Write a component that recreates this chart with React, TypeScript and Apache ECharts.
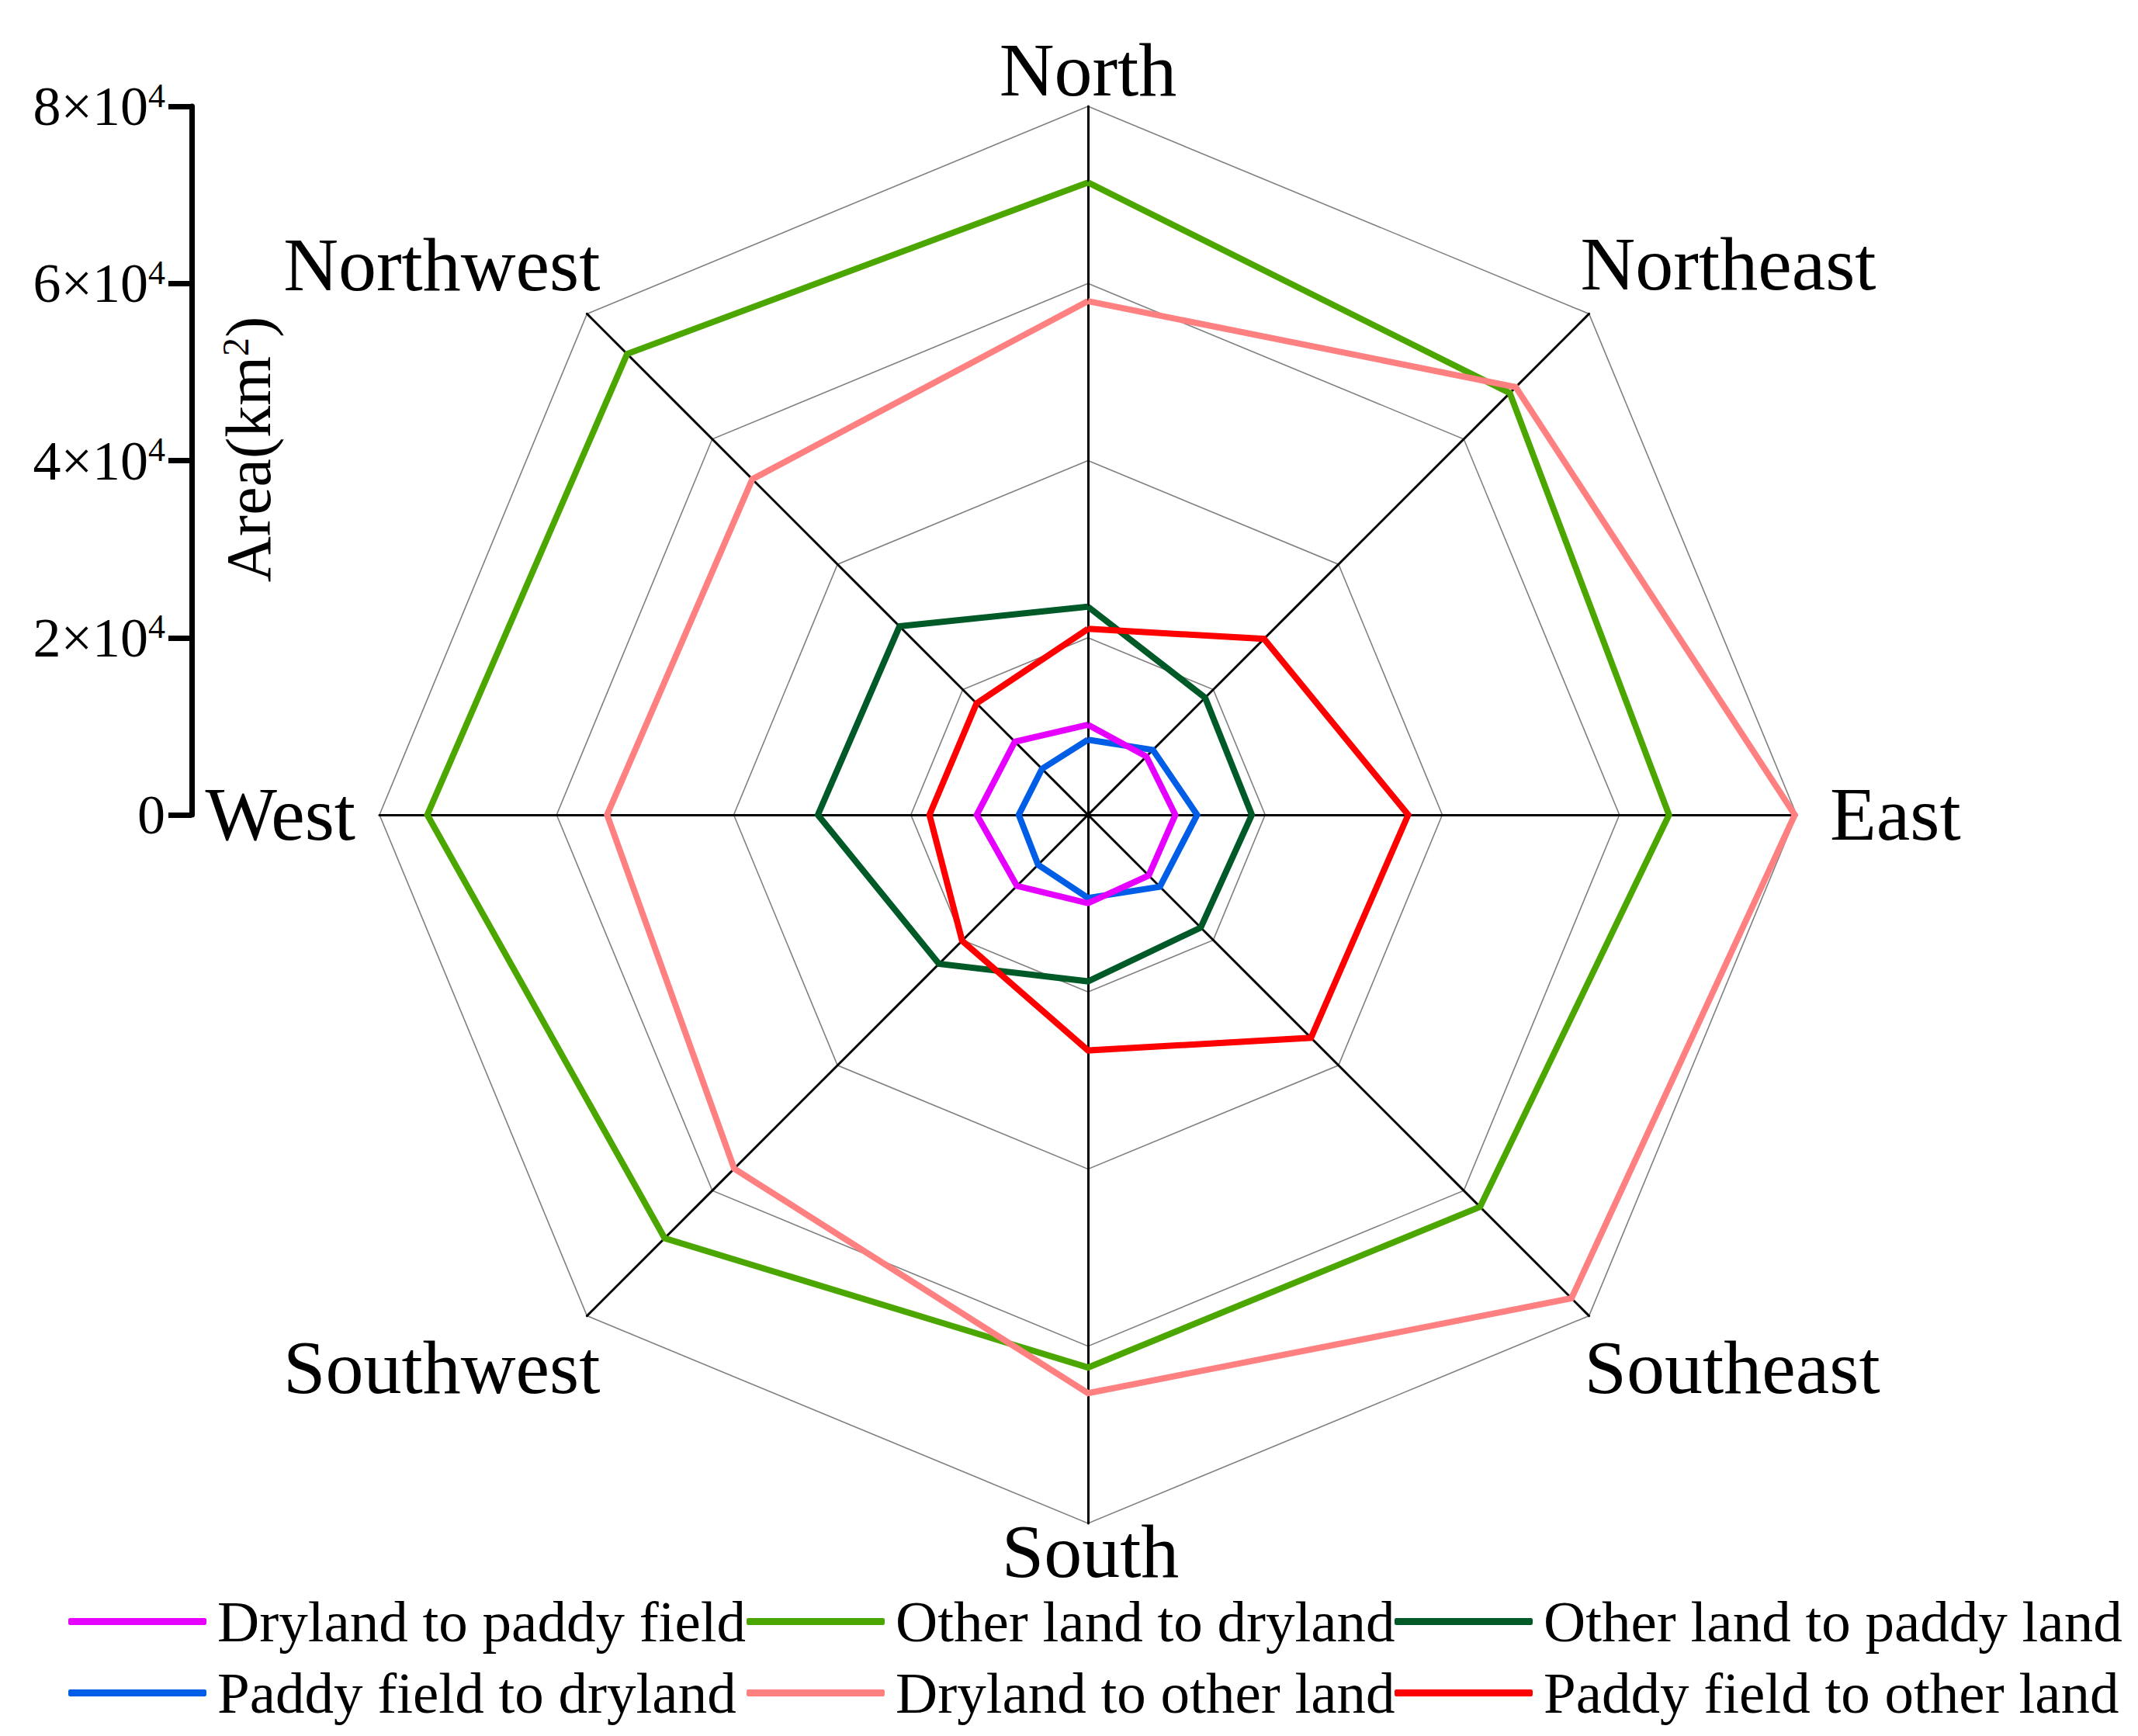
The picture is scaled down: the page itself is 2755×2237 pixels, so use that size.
import React, { useEffect, useRef } from 'react';
import * as echarts from 'echarts';

// ---- data ----
const directions = ['North', 'Northwest', 'West', 'Southwest', 'South', 'Southeast', 'East', 'Northeast'];
const seriesNames = [
  'Dryland to paddy field',
  'Other land to dryland',
  'Other land to paddy land',
  'Paddy field to dryland',
  'Dryland to other land',
  'Paddy field to other land',
];
// values (km²), in the order of `directions`
const drylandToPaddy = [10170, 11680, 12560, 11350, 9980, 9690, 9860, 9320];
const otherToDryland = [71400, 73600, 74600, 67600, 62400, 62600, 65600, 67350];
const otherToPaddy = [23500, 30100, 30500, 23800, 18800, 18000, 18500, 18700];
const paddyToDryland = [8480, 7350, 7820, 7970, 9390, 11480, 12320, 10370];
const drylandToOther = [58000, 53600, 54300, 56500, 65300, 77200, 79800, 68300];
const paddyToOther = [21000, 17800, 17900, 20100, 26600, 35600, 36150, 28100];
const seriesValues = [drylandToPaddy, otherToDryland, otherToPaddy, paddyToDryland, drylandToOther, paddyToOther];
const colors = ['#e600ff', '#4ca600', '#005a27', '#005ee6', '#ff8080', '#ff0000'];
const drawOrder = [3, 0, 2, 5, 1, 4];
const axisMax = 80000;
const axisInterval = 20000;

// ---- layout ----
const W = 2755;
const H = 2237;
const CX = 1402;
const CY = 1050;
const R = 913;
const FONT = '"Liberation Serif", "Times New Roman", serif';
const LEGEND_LEFT = [88, 962, 1797];

export default function App() {
  const ref = useRef<HTMLDivElement>(null);

  useEffect(() => {
    if (!ref.current) return;
    const chart = echarts.init(ref.current, null, { renderer: 'svg' });
    const D = R * Math.SQRT1_2;
    const labelPlace: Record<string, { x: number; y: number; align: string }> = {
      North: { x: CX, y: CY - R - 47, align: 'center' },
      Northwest: { x: CX - D + 17, y: CY - D - 63, align: 'right' },
      West: { x: CX - R - 31, y: CY - 1, align: 'right' },
      Southwest: { x: CX - D + 17, y: CY + D + 66, align: 'right' },
      South: { x: CX + 3, y: CY + R + 36, align: 'center' },
      Southeast: { x: CX + D - 6, y: CY + D + 66, align: 'left' },
      East: { x: CX + R + 43, y: CY - 1, align: 'left' },
      Northeast: { x: CX + D - 11, y: CY - D - 64, align: 'left' },
    };

    const graphics: any[] = directions.map((name) => ({
      type: 'text',
      x: labelPlace[name].x,
      y: labelPlace[name].y,
      silent: true,
      style: {
        text: name,
        fill: '#000',
        fontSize: 98,
        fontFamily: FONT,
        align: labelPlace[name].align,
        verticalAlign: 'middle',
      },
    }));
    graphics.push({
      type: 'text',
      x: 320,
      y: 579,
      rotation: Math.PI / 2,
      silent: true,
      style: {
        text: '{a|Area(km}{s|2}{a|)}',
        align: 'center',
        verticalAlign: 'middle',
        rich: {
          a: { fontSize: 82, fontFamily: FONT, fill: '#000', lineHeight: 82 },
          s: { fontSize: 48, fontFamily: FONT, fill: '#000', lineHeight: 44, verticalAlign: 'top' },
        },
      },
    });

    const option: any = {
      animation: false,
      backgroundColor: '#fff',
      grid: { left: 247, top: 137, width: 10, height: 913, show: false },
      xAxis: { type: 'value', show: false, min: 0, max: 1 },
      yAxis: {
        type: 'value',
        min: 0,
        max: axisMax,
        interval: axisInterval,
        position: 'left',
        axisLine: { show: true, onZero: false, lineStyle: { color: '#000', width: 7 } },
        axisTick: { show: true, inside: false, length: 30, lineStyle: { color: '#000', width: 7 } },
        splitLine: { show: false },
        axisLabel: {
          margin: 34,
          fontSize: 72,
          fontFamily: FONT,
          color: '#000',
          formatter: (v: number) => (v === 0 ? '0' : `{m|${v / 10000}×10}{s|4}`),
          rich: {
            m: { fontSize: 72, fontFamily: FONT, color: '#000', lineHeight: 72 },
            s: { fontSize: 44, fontFamily: FONT, color: '#000', lineHeight: 30, verticalAlign: 'top' },
          },
        },
      },
      radar: {
        center: [CX, CY],
        radius: R,
        startAngle: 90,
        shape: 'polygon',
        splitNumber: axisMax / axisInterval,
        indicator: directions.map((name) => ({ name, min: 0, max: axisMax })),
        axisName: { show: false },
        axisLine: { show: true, lineStyle: { color: '#000', width: 3 } },
        splitLine: { show: true, lineStyle: { color: '#808080', width: 1.6 } },
        splitArea: { show: false },
        axisTick: { show: false },
        axisLabel: { show: false },
      },
      legend: [0, 1, 2].map((c) => ({
        orient: 'vertical',
        left: LEGEND_LEFT[c],
        top: 2052,
        padding: 0,
        itemWidth: 178,
        itemHeight: 9,
        itemGap: 17,
        icon: 'roundRect',
        selectedMode: false,
        data: [seriesNames[c], seriesNames[c + 3]],
        textStyle: { fontSize: 75, fontFamily: FONT, color: '#000', lineHeight: 75, padding: [0, 0, 0, 9] },
      })),
      graphic: graphics,
      series: drawOrder.map((i) => ({
        type: 'radar',
        name: seriesNames[i],
        symbol: 'none',
        silent: true,
        itemStyle: { color: colors[i] },
        lineStyle: { color: colors[i], width: 8, join: 'miter', miterLimit: 10 },
        data: [{ value: seriesValues[i] }],
      })),
    };
    chart.setOption(option);
    return () => chart.dispose();
  }, []);

  return (
    <div
      ref={ref}
      style={{ position: 'absolute', left: 0, top: 0, width: W, height: H, background: '#fff' }}
    />
  );
}
